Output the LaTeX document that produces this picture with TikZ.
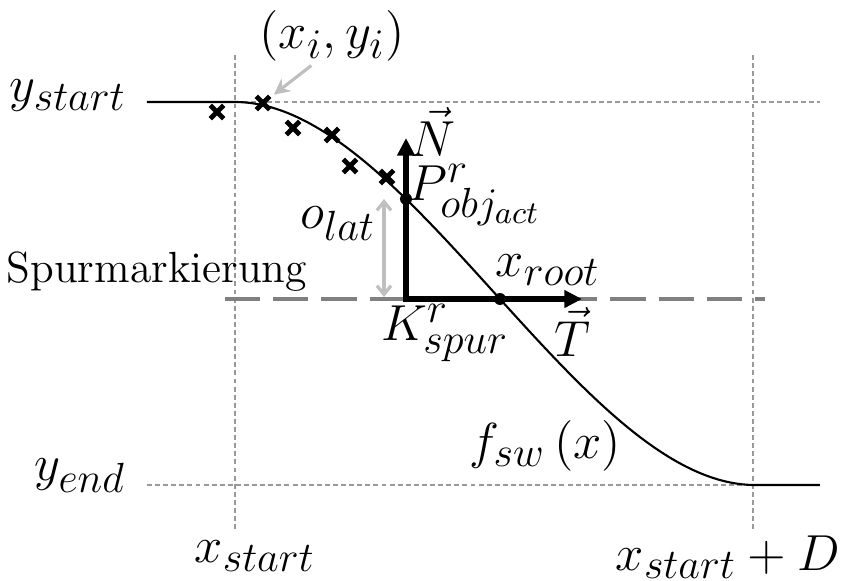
\documentclass[tikz,border=0pt]{standalone}
\usetikzlibrary{arrows.meta,shapes.misc}
\DeclareMathSizes{14.4}{14.4}{12}{9}

\tikzset{
  guide/.style={gray!80, line width=0.35pt, dash pattern=on 1.4pt off 0.9pt},
  lane/.style={gray, line width=1.2pt, dash pattern=on 10pt off 3.7pt},
  axis/.style={line width=1.6pt, {Triangle[length=5pt,width=4.8pt]}-{Triangle[length=5pt,width=4.8pt]}},
  hint/.style={gray!50, line width=0.9pt},
  lbl/.style={inner sep=1pt, font=\Large},
  dot/.style={circle, fill, inner sep=0pt, minimum size=3.4pt},
  meas/.style={cross out, draw, line width=1.4pt, inner sep=0pt, minimum size=2.4pt},
}

\begin{document}
\begin{tikzpicture}[x=0.01cm,y=-0.01cm]
\useasboundingbox (0,0) rectangle (853,581);

% guide lines
\draw[guide] (235,55) -- (235,530);
\draw[guide] (753,55) -- (753,530);
\draw[guide] (235,102) -- (820,102);
\draw[guide] (147,485) -- (753,485);

% lane marking
\draw[lane] (225,299) -- (765,299);

% lane change curve
\draw[line width=0.6pt] (147,102) -- (235,102)
  .. controls (408.3,102) and (581.7,485) .. (755,485) -- (820,485);

% measured points
\foreach \p [count=\i] in {(217,112),(263,103),(293,128),(332,135),(350,166),(387,177)}
  \node[meas] (c\i) at \p {};

% lane frame
\coordinate (K) at (406,299);
\coordinate (Ntip) at (406,138);
\coordinate (Ttip) at (582,299);
\draw[axis] (Ntip) -- (K) -- (Ttip);
\node[dot] (P) at (406,199) {};
\node[dot] (R) at (500,299) {};

% labels
\node[lbl] (ys) at (68,96) {$y_{start}$};
\node[lbl] (ye) at (80,476) {$y_{end}$};
\node[lbl] (xs) at (255,556) {$x_{start}$};
\node[lbl] (xe) at (728,557) {$x_{start}+D$};
\node[lbl] (xy) at (332,36) {$(x_i,y_i)$};
\node[lbl] (f) at (545,446) {$f_{sw}\left(x\right)$};
\node[lbl] (Nl) at (433,132) {$\vec{N}$};
\node[lbl] (Pl) at (475,195) {$P^r_{obj_{act}}$};
\node[lbl] (xr) at (548,270) {$x_{root}$};
\node[lbl] (Kl) at (445,333) {$K^r_{spur}$};
\node[lbl] (Tl) at (572,332) {$\vec{T}$};
\node[lbl] (ol) at (338,224) {$o_{lat}$};
\node[anchor=base west, inner sep=0pt, font=\fontsize{12.4}{15}\selectfont] (spur) at (6,282) {Spurmarkierung};

% hints
\draw[hint, -{Stealth[length=4.5pt,width=4.5pt]}, shorten >=1.5pt] (xy.-125) -- (c2);
\coordinate (lat) at (384,297);
\draw[hint, {Straight Barb[length=2.5pt,width=4pt]}-{Straight Barb[length=2.5pt,width=4pt]}]
  (lat) -- (lat |- P);
\end{tikzpicture}
\end{document}
